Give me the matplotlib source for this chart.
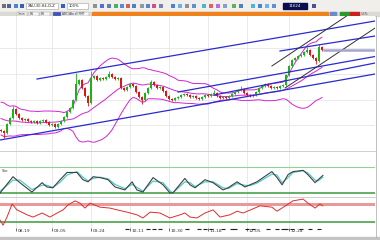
import numpy as np
import pandas as pd
import matplotlib
matplotlib.use("Agg")
import matplotlib.pyplot as plt
import matplotlib.transforms as mtransforms
from matplotlib.patches import Rectangle

# price closes (bars before the first visible one feed the bands)
warmup = [130, 132, 134, 131, 128, 130, 133, 128, 124, 126,
          122, 119, 121, 117, 114, 116, 113, 111, 112, 110]
closes = [109, 107, 116, 122, 131, 126, 122, 120, 121, 119,
          118, 119, 117, 119, 120, 118, 115, 116, 113, 116,
          119, 123, 128, 132, 140, 156, 160, 152, 144, 137,
          162, 164, 160, 162, 161, 163, 166, 163, 161, 162,
          152, 150, 153, 156, 154, 148, 143, 140, 147, 152,
          158, 155, 152, 153, 149, 144, 141, 140, 142, 143,
          145, 146, 145, 143, 144, 142, 141, 143, 145, 144,
          146, 147, 144, 142, 143, 142, 144, 146, 148, 150,
          151, 147, 145, 144, 145, 148, 152, 154, 156, 154,
          152, 153, 152, 154, 155, 165, 174, 180, 182, 184,
          185, 188, 190, 185, 182, 179, 193, 190]
# long wicks
spike_high = {4: 134, 25: 167, 30: 169, 36: 169, 50: 160, 71: 150, 80: 154, 102: 193, 106: 196}
spike_low = {1: 102, 29: 134, 47: 136, 105: 176}

# trend lines drawn on the chart: (bar, price) -> (bar, price)
blue_lines = [((12, 161), (124.7, 219)),
              ((93, 189), (124.7, 204)),
              ((59, 148), (124.7, 183.5)),
              ((71, 145), (124.7, 177)),
              ((-0.3, 100), (124.7, 166))]
black_lines = [((90.3, 174), (115.7, 225)),
               ((94.7, 152), (125.7, 214))]

# stochastic
sto_x = [-0.3, 4, 6.3, 10.3, 13.7, 15.3, 17.3, 19.7, 22, 25.3,
         27.3, 29, 30.7, 33, 35.7, 38, 41.3, 43.7, 45.3, 47.3,
         50.7, 54, 56.3, 57.3, 61.3, 63, 64.7, 68, 70.7, 74,
         75.7, 78.7, 81.3, 83, 85.3, 90.3, 92, 93.7, 95.7, 97.3,
         100.7, 102.3, 104.7, 105.7, 107.3]
sto_k = [20, 58, 44, 22, 44, 34, 32, 51, 68, 68,
         51, 46, 58, 56, 51, 34, 27, 46, 27, 22,
         56, 39, 20, 20, 54, 39, 32, 51, 44, 27,
         32, 46, 34, 39, 46, 70, 56, 39, 63, 70,
         73, 63, 44, 51, 61]
sto_d = [24, 50, 50, 28, 38, 38, 33, 45, 62, 70,
         57, 48, 54, 57, 53, 40, 30, 40, 33, 24,
         48, 44, 25, 20, 46, 44, 35, 46, 46, 32,
         30, 42, 38, 37, 43, 64, 62, 44, 56, 68,
         72, 67, 50, 48, 57]

# RSI
rsi_x = [-0.3, 0.7, 2, 3.7, 5.3, 8.7, 10.7, 13.7, 16.3, 18.7,
         20.7, 22.3, 24.7, 26.3, 28, 29.7, 33, 36.3, 38.7, 42,
         45.3, 47.3, 49.7, 53, 56.3, 59.7, 61.3, 63, 65.3, 68,
         70.7, 73, 76.3, 78.7, 80.7, 85.3, 86.3, 90.3, 92, 95.3,
         97.3, 100.7, 102.3, 104.7, 106.3, 107.3]
rsi_v = [34, 23, 41, 70, 57, 46, 41, 50, 41, 50,
         57, 68, 77, 72, 61, 72, 63, 61, 57, 52,
         46, 39, 52, 50, 39, 46, 50, 41, 39, 50,
         57, 41, 46, 54, 50, 63, 66, 63, 54, 68,
         77, 81, 72, 61, 70, 66]

date_bars = [5, 17, 30, 43, 56, 69, 82, 96]
date_labels = ["08-19", "09-05", "09-24", "10-11", "10-30", "11-18", "12-05", "12-24"]
event_bars = [42, 49, 51, 53, 62, 66, 68, 70, 74, 77, 78, 82, 84, 89, 92, 94, 95, 97, 100, 103, 106]

W, H = 380, 240
XMIN, XMAX = -1 / 3, 124.67
fig = plt.figure(figsize=(W / 100, H / 100), dpi=100)

# window chrome (toolbar, tab strip, status bar)
chrome = fig.add_axes([0, 0, 1, 1])
chrome.set_xlim(0, W)
chrome.set_ylim(H, 0)
chrome.axis("off")
chrome.add_patch(Rectangle((0, 0), W, 11.5, color="#f0efec"))
icon_x = [1, 6, 13, 19, 60, 92, 99, 106, 113, 119, 125, 131, 139, 145, 151, 158,
          170, 177, 184, 191, 201, 208, 215, 222, 231, 238, 250, 257, 264, 271, 311]
icon_c = ["#707070", "#5060a0", "#5080d0", "#3060c0", "#3060d0", "#909090", "#5070d0",
          "#6080b0", "#50b060", "#5090d0", "#d06060", "#5080c0", "#9098a0", "#6080d0",
          "#d05080", "#8080b0", "#5080d0", "#70b0e0", "#909090", "#6090d0", "#50b0d0",
          "#e06060", "#b070e0", "#80a0d0", "#60b060", "#5080c0", "#50b0e0", "#5080d0",
          "#70b0f0", "#6090d0", "#505090"]
for x, c in zip(icon_x, icon_c):
    chrome.add_patch(Rectangle((x + 0.5, 3.5), 4, 4.5, color=c, lw=0))
chrome.add_patch(Rectangle((26, 2.5), 32, 6.5, facecolor="white", edgecolor="#a0a0a0", lw=0.4))
chrome.text(27.5, 5.9, "XAU,30,H4,CLZ", fontsize=2.6, va="center", color="#202020")
chrome.add_patch(Rectangle((67, 2.5), 21, 6.5, facecolor="white", edgecolor="#a0a0a0", lw=0.4))
chrome.text(68.5, 5.9, "100%", fontsize=2.6, va="center", color="#202020")
chrome.add_patch(Rectangle((283, 2.5), 24, 6.5, color="#0c0c50"))
chrome.text(295, 5.9, "11624", fontsize=2.8, va="center", ha="center", color="white")

chrome.add_patch(Rectangle((0, 11.5), W, 4.8, color="#dcdad5"))
chrome.add_patch(Rectangle((92, 11.8), 236, 4.2, color="#f0821e"))
tabs = [(17, "1min"), (29, "H1"), (40, "LN"), (53, ""), (61, "ABC(Abcd) FMT")]
for x, t in tabs:
    chrome.add_patch(Rectangle((x, 12), 10 if t != tabs[-1][1] else 28, 3.8,
                               facecolor="#4050c0" if t == "" else "#f4f4f4",
                               edgecolor="#a0a0a0", lw=0.3))
    chrome.text(x + 1, 14, t, fontsize=2.2, va="center", color="#303030")
chrome.add_patch(Rectangle((330, 12), 6, 3.8, color="#6a8ad0"))
chrome.add_patch(Rectangle((340, 12), 10, 3.8, color="#2a9a2a"))
chrome.add_patch(Rectangle((350, 12), 9, 3.8, color="#cc2020"))
chrome.text(361, 14, "1.5%", fontsize=2.2, va="center", color="#404040")
chrome.add_patch(Rectangle((0, 236.5), W, 3.5, color="#c4c4c4"))
chrome.plot([375.5, 375.5], [16, 236.5], color="#b4b4b4", lw=0.6)


def panel(top, bottom):
    ax = fig.add_axes([0, (H - bottom) / H, 375 / W, (bottom - top) / H])
    ax.set_xlim(XMIN, XMAX)
    for s in ax.spines.values():
        s.set_visible(False)
    ax.tick_params(left=False, bottom=False, labelleft=False, labelbottom=False)
    for b in date_bars:
        ax.axvline(b, color="#e6e6e6", lw=0.6, zorder=0)
    return ax


# ---- price panel ----
main = panel(16, 151)
main.set_ylim(89, 224)
for p in [192, 166, 140, 115]:
    main.axhline(p, color="#e6e6e6", lw=0.6, zorder=0)

n = len(closes)
idx = np.arange(n)
c = np.array(closes, dtype=float)
o = np.array([warmup[-1]] + closes[:-1], dtype=float)
wick = 1.0
hi = np.maximum(o, c) + wick
lo = np.minimum(o, c) - wick
for k, v in spike_high.items():
    hi[k] = v
for k, v in spike_low.items():
    lo[k] = v
up = c >= o
col = np.where(up, "#18b418", "#e01414")
main.vlines(idx, lo, hi, colors=col, lw=0.6, zorder=3)
body = np.maximum(np.abs(c - o), 0.8)
main.bar(idx, body, bottom=np.minimum(o, c), width=0.62, color=col, lw=0, zorder=4)

s = pd.Series(warmup + closes, dtype=float)
mid = s.rolling(20).mean().to_numpy()[len(warmup):]
sd = s.rolling(20).std(ddof=0).to_numpy()[len(warmup):]
for band in (mid + 2 * sd, mid, mid - 2 * sd):
    main.plot(idx, band, color="#d424d4", lw=0.7, zorder=2)

for (x0, y0), (x1, y1) in blue_lines:
    main.plot([x0, x1], [y0, y1], color="#2a2ad2", lw=0.9, zorder=5)
for (x0, y0), (x1, y1) in black_lines:
    main.plot([x0, x1], [y0, y1], color="#303030", lw=0.7, zorder=5)
main.hlines(closes[-1], n - 0.6, XMAX, color="#a4a4d0", lw=1.8, zorder=5)

# ---- stochastic panel ----
sto = panel(151, 197)
sto.set_ylim(10.4, 118.4)
sto.spines["top"].set_visible(True)
sto.spines["top"].set_color("#c8c8c8")
sto.spines["top"].set_linewidth(0.6)
sto.axhline(80, color="#92d292", lw=0.8)
sto.axhline(20, color="#3a9a3a", lw=1.1)
sto.plot(sto_x, sto_d, color="#3cc8c8", lw=0.8)
sto.plot(sto_x, sto_k, color="#404040", lw=0.8)
sto.text(0.3, 77, "Sto", fontsize=2.8, va="top", color="#404040")

# ---- RSI panel ----
rsi = panel(197, 228)
rsi.set_ylim(16.7, 85.6)
rsi.spines["top"].set_visible(True)
rsi.spines["top"].set_color("#c8c8c8")
rsi.spines["top"].set_linewidth(0.6)
rsi.axhline(70, color="#e89a9a", lw=2.2)
rsi.axhline(30, color="#3a9a3a", lw=1.1)
rsi.plot(rsi_x, rsi_v, color="#e02c2c", lw=0.7)

rsi.set_xticks(date_bars)
rsi.tick_params(bottom=True, length=2.5, width=0.5, color="#303030", direction="out")
trans = mtransforms.blended_transform_factory(rsi.transData, rsi.transAxes)
for b, t in zip(date_bars, date_labels):
    rsi.text(b + 0.5, -0.03, t, transform=trans, fontsize=3.2, va="top", ha="left",
             color="#303030", clip_on=False)
rsi.plot(event_bars, [-0.04] * len(event_bars), transform=trans, ls="none",
         marker="_", ms=2.2, mew=0.8, color="#202020", clip_on=False)

fig.savefig("out.png", dpi=100)
